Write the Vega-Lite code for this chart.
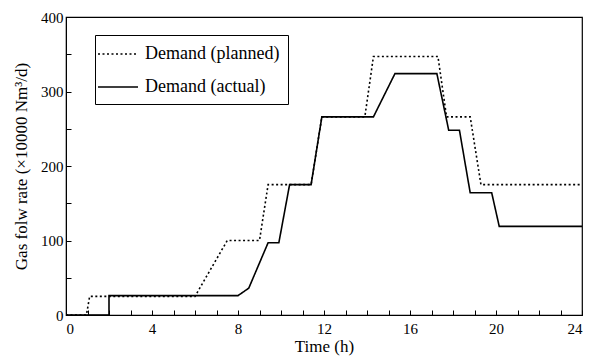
{
  "$schema": "https://vega.github.io/schema/vega-lite/v6.json",
  "autosize": "none",
  "padding": {"left": 66, "top": 17, "right": 7, "bottom": 44},
  "width": 516,
  "height": 298,
  "background": "white",
  "config": {
    "font": "Liberation Serif",
    "view": {"stroke": "black", "strokeWidth": 1.2},
    "axis": {"grid": false, "domainColor": "black", "tickColor": "black", "labelColor": "black", "titleColor": "black", "labelFont": "Liberation Serif", "titleFont": "Liberation Serif", "labelFontSize": 15, "titleFontSize": 17, "titleFontWeight": "normal", "tickSize": -5, "labelPadding": 11}
  },
  "data": {"values": [
    {"t": 0, "v": 0, "s": "Demand (planned)", "o": 0},
    {"t": 0.95, "v": 0, "s": "Demand (planned)", "o": 1},
    {"t": 1.1, "v": 25, "s": "Demand (planned)", "o": 2},
    {"t": 6, "v": 25, "s": "Demand (planned)", "o": 3},
    {"t": 7.5, "v": 100, "s": "Demand (planned)", "o": 4},
    {"t": 9, "v": 100, "s": "Demand (planned)", "o": 5},
    {"t": 9.4, "v": 175, "s": "Demand (planned)", "o": 6},
    {"t": 11.4, "v": 175, "s": "Demand (planned)", "o": 7},
    {"t": 11.9, "v": 266, "s": "Demand (planned)", "o": 8},
    {"t": 13.9, "v": 266, "s": "Demand (planned)", "o": 9},
    {"t": 14.3, "v": 347, "s": "Demand (planned)", "o": 10},
    {"t": 17.3, "v": 347, "s": "Demand (planned)", "o": 11},
    {"t": 17.7, "v": 266, "s": "Demand (planned)", "o": 12},
    {"t": 18.8, "v": 266, "s": "Demand (planned)", "o": 13},
    {"t": 19.3, "v": 175, "s": "Demand (planned)", "o": 14},
    {"t": 24, "v": 175, "s": "Demand (planned)", "o": 15},
    {"t": 0, "v": 0, "s": "Demand (actual)", "o": 0},
    {"t": 2, "v": 0, "s": "Demand (actual)", "o": 1},
    {"t": 2, "v": 26, "s": "Demand (actual)", "o": 2},
    {"t": 8, "v": 26, "s": "Demand (actual)", "o": 3},
    {"t": 8.5, "v": 36, "s": "Demand (actual)", "o": 4},
    {"t": 9.4, "v": 97, "s": "Demand (actual)", "o": 5},
    {"t": 9.9, "v": 97, "s": "Demand (actual)", "o": 6},
    {"t": 10.4, "v": 175, "s": "Demand (actual)", "o": 7},
    {"t": 11.4, "v": 175, "s": "Demand (actual)", "o": 8},
    {"t": 11.9, "v": 266, "s": "Demand (actual)", "o": 9},
    {"t": 14.3, "v": 266, "s": "Demand (actual)", "o": 10},
    {"t": 15.3, "v": 324, "s": "Demand (actual)", "o": 11},
    {"t": 17.25, "v": 324, "s": "Demand (actual)", "o": 12},
    {"t": 17.8, "v": 248, "s": "Demand (actual)", "o": 13},
    {"t": 18.3, "v": 248, "s": "Demand (actual)", "o": 14},
    {"t": 18.8, "v": 164, "s": "Demand (actual)", "o": 15},
    {"t": 19.8, "v": 164, "s": "Demand (actual)", "o": 16},
    {"t": 20.15, "v": 119, "s": "Demand (actual)", "o": 17},
    {"t": 24, "v": 119, "s": "Demand (actual)", "o": 18}
  ]},
  "mark": {"type": "line", "color": "black", "strokeWidth": 1.6},
  "encoding": {
    "x": {"field": "t", "type": "quantitative", "scale": {"domain": [0, 24], "nice": false},
      "axis": {"title": "Time (h)", "values": [0,1,2,3,4,5,6,7,8,9,10,11,12,13,14,15,16,17,18,19,20,21,22,23,24], "labelExpr": "datum.value % 4 == 0 ? datum.label : ''", "titlePadding": 2}},
    "y": {"field": "v", "type": "quantitative", "scale": {"domain": [0, 400], "nice": false},
      "axis": {"title": "Gas folw rate (×10000 Nm³/d)", "values": [0,50,100,150,200,250,300,350,400], "labelExpr": "datum.value % 100 == 0 ? datum.label : ''", "labelPadding": 8, "titlePadding": 10}},
    "order": {"field": "o"},
    "strokeDash": {"field": "s", "type": "nominal",
      "scale": {"domain": ["Demand (planned)", "Demand (actual)"], "range": [[2, 2.5], [1, 0]]},
      "legend": {"title": null, "orient": "none", "legendX": 29, "legendY": 18, "symbolType": "M-1,0L3,0", "symbolSize": 400, "symbolStrokeWidth": 1.4, "symbolStrokeColor": "black", "symbolFillColor": "transparent", "labelFontSize": 18, "labelFont": "Liberation Serif", "labelColor": "black", "strokeColor": "black", "padding": 8, "rowPadding": 13, "labelOffset": 26, "symbolOffset": -6, "cornerRadius": 0}}
  }
}
